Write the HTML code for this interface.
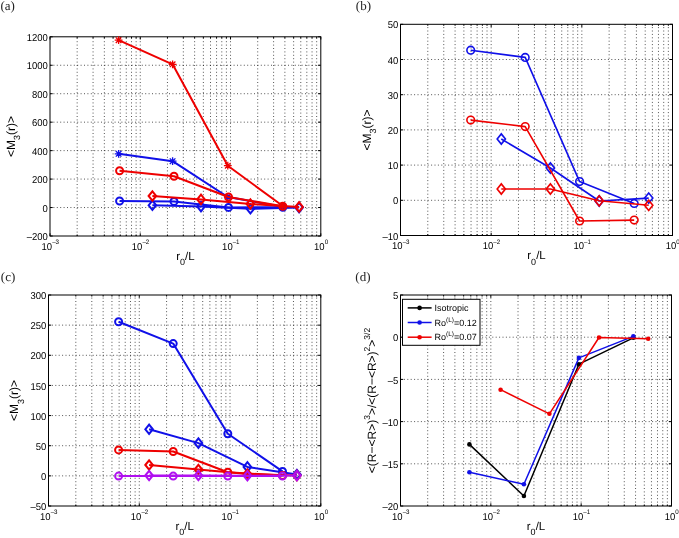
<!DOCTYPE html>
<html><head><meta charset="utf-8"><title>figure</title>
<style>html,body{margin:0;padding:0;background:#fff;width:679px;height:538px;overflow:hidden}svg{display:block;will-change:transform;text-rendering:geometricPrecision;filter:blur(0.3px)}</style>
</head><body>
<svg width="679" height="538" viewBox="0 0 679 538" font-family='"Liberation Sans", sans-serif' fill="#000">
<rect width="100%" height="100%" fill="#fff"/>
<path d="M77.17 236V36.8M93.07 236V36.8M104.35 236V36.8M113.09 236V36.8M120.24 236V36.8M126.28 236V36.8M131.52 236V36.8M136.14 236V36.8M140.27 236V36.8M167.44 236V36.8M183.33 236V36.8M194.61 236V36.8M203.36 236V36.8M210.51 236V36.8M216.55 236V36.8M221.79 236V36.8M226.4 236V36.8M230.53 236V36.8M257.71 236V36.8M273.6 236V36.8M284.88 236V36.8M293.63 236V36.8M300.77 236V36.8M306.82 236V36.8M312.05 236V36.8M316.67 236V36.8M50 207.54H320.8M50 179.09H320.8M50 150.63H320.8M50 122.17H320.8M50 93.71H320.8M50 65.26H320.8" stroke="#000" stroke-width="0.9" stroke-dasharray="1 2.4" fill="none" opacity="0.75"/>
<path d="M50 236V233.3M50 36.8V39.5M77.17 236V234.5M77.17 36.8V38.3M93.07 236V234.5M93.07 36.8V38.3M104.35 236V234.5M104.35 36.8V38.3M113.09 236V234.5M113.09 36.8V38.3M120.24 236V234.5M120.24 36.8V38.3M126.28 236V234.5M126.28 36.8V38.3M131.52 236V234.5M131.52 36.8V38.3M136.14 236V234.5M136.14 36.8V38.3M140.27 236V233.3M140.27 36.8V39.5M167.44 236V234.5M167.44 36.8V38.3M183.33 236V234.5M183.33 36.8V38.3M194.61 236V234.5M194.61 36.8V38.3M203.36 236V234.5M203.36 36.8V38.3M210.51 236V234.5M210.51 36.8V38.3M216.55 236V234.5M216.55 36.8V38.3M221.79 236V234.5M221.79 36.8V38.3M226.4 236V234.5M226.4 36.8V38.3M230.53 236V233.3M230.53 36.8V39.5M257.71 236V234.5M257.71 36.8V38.3M273.6 236V234.5M273.6 36.8V38.3M284.88 236V234.5M284.88 36.8V38.3M293.63 236V234.5M293.63 36.8V38.3M300.77 236V234.5M300.77 36.8V38.3M306.82 236V234.5M306.82 36.8V38.3M312.05 236V234.5M312.05 36.8V38.3M316.67 236V234.5M316.67 36.8V38.3M320.8 236V233.3M320.8 36.8V39.5M50 236H52.7M320.8 236H318.1M50 207.54H52.7M320.8 207.54H318.1M50 179.09H52.7M320.8 179.09H318.1M50 150.63H52.7M320.8 150.63H318.1M50 122.17H52.7M320.8 122.17H318.1M50 93.71H52.7M320.8 93.71H318.1M50 65.26H52.7M320.8 65.26H318.1M50 36.8H52.7M320.8 36.8H318.1" stroke="#000" stroke-width="1" fill="none"/>
<rect x="50" y="36.8" width="270.8" height="199.2" fill="none" stroke="#000" stroke-width="1"/>
<g>
<path d="M118.6 153.8L172.6 161.2L227.8 197L282.5 206.8" stroke="#1010e8" stroke-width="2.0" fill="none" stroke-linejoin="round"/>
<path d="M114.7 153.8H122.5M118.6 149.9V157.7M115.79 150.99L121.41 156.61M115.79 156.61L121.41 150.99" stroke="#1010e8" stroke-width="1.3" fill="none"/>
<path d="M168.7 161.2H176.5M172.6 157.3V165.1M169.79 158.39L175.41 164.01M169.79 164.01L175.41 158.39" stroke="#1010e8" stroke-width="1.3" fill="none"/>
<path d="M223.9 197H231.7M227.8 193.1V200.9M224.99 194.19L230.61 199.81M224.99 199.81L230.61 194.19" stroke="#1010e8" stroke-width="1.3" fill="none"/>
<path d="M278.6 206.8H286.4M282.5 202.9V210.7M279.69 203.99L285.31 209.61M279.69 209.61L285.31 203.99" stroke="#1010e8" stroke-width="1.3" fill="none"/>
<path d="M119.6 201L174 201.4L228.5 207.4L282.8 207.3" stroke="#1010e8" stroke-width="2.0" fill="none" stroke-linejoin="round"/>
<circle cx="119.6" cy="201" r="3.5" fill="none" stroke="#1010e8" stroke-width="2.0"/>
<circle cx="174" cy="201.4" r="3.5" fill="none" stroke="#1010e8" stroke-width="2.0"/>
<circle cx="228.5" cy="207.4" r="3.5" fill="none" stroke="#1010e8" stroke-width="2.0"/>
<circle cx="282.8" cy="207.3" r="3.5" fill="none" stroke="#1010e8" stroke-width="2.0"/>
<path d="M152.4 205.3L201 206.6L250.4 208.8L299.1 207.6" stroke="#1010e8" stroke-width="2.0" fill="none" stroke-linejoin="round"/>
<path d="M148.6 205.3L152.4 200.6L156.2 205.3L152.4 210Z" fill="none" stroke="#1010e8" stroke-width="2.0" stroke-linejoin="miter"/>
<path d="M197.2 206.6L201 201.9L204.8 206.6L201 211.3Z" fill="none" stroke="#1010e8" stroke-width="2.0" stroke-linejoin="miter"/>
<path d="M246.6 208.8L250.4 204.1L254.2 208.8L250.4 213.5Z" fill="none" stroke="#1010e8" stroke-width="2.0" stroke-linejoin="miter"/>
<path d="M295.3 207.6L299.1 202.9L302.9 207.6L299.1 212.3Z" fill="none" stroke="#1010e8" stroke-width="2.0" stroke-linejoin="miter"/>
<path d="M119.6 170.8L174 176.3L228.5 197L282.8 206.3" stroke="#ee0000" stroke-width="2.0" fill="none" stroke-linejoin="round"/>
<circle cx="119.6" cy="170.8" r="3.5" fill="none" stroke="#ee0000" stroke-width="2.0"/>
<circle cx="174" cy="176.3" r="3.5" fill="none" stroke="#ee0000" stroke-width="2.0"/>
<circle cx="228.5" cy="197" r="3.5" fill="none" stroke="#ee0000" stroke-width="2.0"/>
<circle cx="282.8" cy="206.3" r="3.5" fill="none" stroke="#ee0000" stroke-width="2.0"/>
<path d="M152.4 196L201 199.4L250.4 204L299.1 206.9" stroke="#ee0000" stroke-width="2.0" fill="none" stroke-linejoin="round"/>
<path d="M148.6 196L152.4 191.3L156.2 196L152.4 200.7Z" fill="none" stroke="#ee0000" stroke-width="2.0" stroke-linejoin="miter"/>
<path d="M197.2 199.4L201 194.7L204.8 199.4L201 204.1Z" fill="none" stroke="#ee0000" stroke-width="2.0" stroke-linejoin="miter"/>
<path d="M246.6 204L250.4 199.3L254.2 204L250.4 208.7Z" fill="none" stroke="#ee0000" stroke-width="2.0" stroke-linejoin="miter"/>
<path d="M295.3 206.9L299.1 202.2L302.9 206.9L299.1 211.6Z" fill="none" stroke="#ee0000" stroke-width="2.0" stroke-linejoin="miter"/>
<path d="M118.6 40.2L172.6 64.3L227.8 165.7L282.5 205.8" stroke="#ee0000" stroke-width="2.0" fill="none" stroke-linejoin="round"/>
<path d="M114.7 40.2H122.5M118.6 36.3V44.1M115.79 37.39L121.41 43.01M115.79 43.01L121.41 37.39" stroke="#ee0000" stroke-width="1.3" fill="none"/>
<path d="M168.7 64.3H176.5M172.6 60.4V68.2M169.79 61.49L175.41 67.11M169.79 67.11L175.41 61.49" stroke="#ee0000" stroke-width="1.3" fill="none"/>
<path d="M223.9 165.7H231.7M227.8 161.8V169.6M224.99 162.89L230.61 168.51M224.99 168.51L230.61 162.89" stroke="#ee0000" stroke-width="1.3" fill="none"/>
<path d="M278.6 205.8H286.4M282.5 201.9V209.7M279.69 202.99L285.31 208.61M279.69 208.61L285.31 202.99" stroke="#ee0000" stroke-width="1.3" fill="none"/>
</g>
<text transform="translate(47.8 240.1) scale(1 1.05)" text-anchor="end" font-size="9.5">&#8211;200</text>
<text transform="translate(47.8 211.64) scale(1 1.05)" text-anchor="end" font-size="9.5">0</text>
<text transform="translate(47.8 183.19) scale(1 1.05)" text-anchor="end" font-size="9.5">200</text>
<text transform="translate(47.8 154.73) scale(1 1.05)" text-anchor="end" font-size="9.5">400</text>
<text transform="translate(47.8 126.27) scale(1 1.05)" text-anchor="end" font-size="9.5">600</text>
<text transform="translate(47.8 97.81) scale(1 1.05)" text-anchor="end" font-size="9.5">800</text>
<text transform="translate(47.8 69.36) scale(1 1.05)" text-anchor="end" font-size="9.5">1000</text>
<text transform="translate(47.8 40.9) scale(1 1.05)" text-anchor="end" font-size="9.5">1200</text>
<text transform="translate(50.3 249.7) scale(1 1.05)" text-anchor="middle" font-size="9.5">10<tspan font-size="6.2" dy="-5.1">&#8211;3</tspan></text>
<text transform="translate(140.57 249.7) scale(1 1.05)" text-anchor="middle" font-size="9.5">10<tspan font-size="6.2" dy="-5.1">&#8211;2</tspan></text>
<text transform="translate(230.83 249.7) scale(1 1.05)" text-anchor="middle" font-size="9.5">10<tspan font-size="6.2" dy="-5.1">&#8211;1</tspan></text>
<text transform="translate(321.1 249.7) scale(1 1.05)" text-anchor="middle" font-size="9.5">10<tspan font-size="6.2" dy="-5.1">0</tspan></text>
<text x="185.4" y="259.5" text-anchor="middle" font-size="11.5">r<tspan font-size="9" dy="5.5">0</tspan><tspan dy="-5.5">/L</tspan></text>
<path d="M427.79 235.5V24.3M443.76 235.5V24.3M455.09 235.5V24.3M463.87 235.5V24.3M471.05 235.5V24.3M477.12 235.5V24.3M482.38 235.5V24.3M487.02 235.5V24.3M491.17 235.5V24.3M518.46 235.5V24.3M534.43 235.5V24.3M545.75 235.5V24.3M554.54 235.5V24.3M561.72 235.5V24.3M567.79 235.5V24.3M573.05 235.5V24.3M577.68 235.5V24.3M581.83 235.5V24.3M609.13 235.5V24.3M625.09 235.5V24.3M636.42 235.5V24.3M645.21 235.5V24.3M652.39 235.5V24.3M658.46 235.5V24.3M663.71 235.5V24.3M668.35 235.5V24.3M400.5 200.3H672.5M400.5 165.1H672.5M400.5 129.9H672.5M400.5 94.7H672.5M400.5 59.5H672.5" stroke="#000" stroke-width="0.9" stroke-dasharray="1 2.4" fill="none" opacity="0.75"/>
<path d="M400.5 235.5V232.8M400.5 24.3V27M427.79 235.5V234M427.79 24.3V25.8M443.76 235.5V234M443.76 24.3V25.8M455.09 235.5V234M455.09 24.3V25.8M463.87 235.5V234M463.87 24.3V25.8M471.05 235.5V234M471.05 24.3V25.8M477.12 235.5V234M477.12 24.3V25.8M482.38 235.5V234M482.38 24.3V25.8M487.02 235.5V234M487.02 24.3V25.8M491.17 235.5V232.8M491.17 24.3V27M518.46 235.5V234M518.46 24.3V25.8M534.43 235.5V234M534.43 24.3V25.8M545.75 235.5V234M545.75 24.3V25.8M554.54 235.5V234M554.54 24.3V25.8M561.72 235.5V234M561.72 24.3V25.8M567.79 235.5V234M567.79 24.3V25.8M573.05 235.5V234M573.05 24.3V25.8M577.68 235.5V234M577.68 24.3V25.8M581.83 235.5V232.8M581.83 24.3V27M609.13 235.5V234M609.13 24.3V25.8M625.09 235.5V234M625.09 24.3V25.8M636.42 235.5V234M636.42 24.3V25.8M645.21 235.5V234M645.21 24.3V25.8M652.39 235.5V234M652.39 24.3V25.8M658.46 235.5V234M658.46 24.3V25.8M663.71 235.5V234M663.71 24.3V25.8M668.35 235.5V234M668.35 24.3V25.8M672.5 235.5V232.8M672.5 24.3V27M400.5 235.5H403.2M672.5 235.5H669.8M400.5 200.3H403.2M672.5 200.3H669.8M400.5 165.1H403.2M672.5 165.1H669.8M400.5 129.9H403.2M672.5 129.9H669.8M400.5 94.7H403.2M672.5 94.7H669.8M400.5 59.5H403.2M672.5 59.5H669.8M400.5 24.3H403.2M672.5 24.3H669.8" stroke="#000" stroke-width="1" fill="none"/>
<rect x="400.5" y="24.3" width="272" height="211.2" fill="none" stroke="#000" stroke-width="1"/>
<g>
<path d="M470.7 50.2L525.2 57.4L579.6 181.6L634.2 203.4" stroke="#1010e8" stroke-width="1.6" fill="none" stroke-linejoin="round"/>
<circle cx="470.7" cy="50.2" r="3.82" fill="none" stroke="#1010e8" stroke-width="1.6"/>
<circle cx="525.2" cy="57.4" r="3.82" fill="none" stroke="#1010e8" stroke-width="1.6"/>
<circle cx="579.6" cy="181.6" r="3.82" fill="none" stroke="#1010e8" stroke-width="1.6"/>
<circle cx="634.2" cy="203.4" r="3.82" fill="none" stroke="#1010e8" stroke-width="1.6"/>
<path d="M501.3 139L550.4 168L599.2 201L648.7 198.1" stroke="#1010e8" stroke-width="1.6" fill="none" stroke-linejoin="round"/>
<path d="M497.16 139L501.3 133.88L505.44 139L501.3 144.12Z" fill="none" stroke="#1010e8" stroke-width="1.6" stroke-linejoin="miter"/>
<path d="M546.26 168L550.4 162.88L554.54 168L550.4 173.12Z" fill="none" stroke="#1010e8" stroke-width="1.6" stroke-linejoin="miter"/>
<path d="M595.06 201L599.2 195.88L603.34 201L599.2 206.12Z" fill="none" stroke="#1010e8" stroke-width="1.6" stroke-linejoin="miter"/>
<path d="M644.56 198.1L648.7 192.98L652.84 198.1L648.7 203.22Z" fill="none" stroke="#1010e8" stroke-width="1.6" stroke-linejoin="miter"/>
<path d="M470.7 120.1L525.2 126.6L579.6 221L634.2 220.1" stroke="#ee0000" stroke-width="1.6" fill="none" stroke-linejoin="round"/>
<circle cx="470.7" cy="120.1" r="3.82" fill="none" stroke="#ee0000" stroke-width="1.6"/>
<circle cx="525.2" cy="126.6" r="3.82" fill="none" stroke="#ee0000" stroke-width="1.6"/>
<circle cx="579.6" cy="221" r="3.82" fill="none" stroke="#ee0000" stroke-width="1.6"/>
<circle cx="634.2" cy="220.1" r="3.82" fill="none" stroke="#ee0000" stroke-width="1.6"/>
<path d="M501.3 189L550.4 189L599.2 200.8L648.7 205.3" stroke="#ee0000" stroke-width="1.6" fill="none" stroke-linejoin="round"/>
<path d="M497.16 189L501.3 183.88L505.44 189L501.3 194.12Z" fill="none" stroke="#ee0000" stroke-width="1.6" stroke-linejoin="miter"/>
<path d="M546.26 189L550.4 183.88L554.54 189L550.4 194.12Z" fill="none" stroke="#ee0000" stroke-width="1.6" stroke-linejoin="miter"/>
<path d="M595.06 200.8L599.2 195.68L603.34 200.8L599.2 205.92Z" fill="none" stroke="#ee0000" stroke-width="1.6" stroke-linejoin="miter"/>
<path d="M644.56 205.3L648.7 200.18L652.84 205.3L648.7 210.42Z" fill="none" stroke="#ee0000" stroke-width="1.6" stroke-linejoin="miter"/>
</g>
<text transform="translate(398.3 239.6) scale(1 1.05)" text-anchor="end" font-size="9.5">&#8211;10</text>
<text transform="translate(398.3 204.4) scale(1 1.05)" text-anchor="end" font-size="9.5">0</text>
<text transform="translate(398.3 169.2) scale(1 1.05)" text-anchor="end" font-size="9.5">10</text>
<text transform="translate(398.3 134) scale(1 1.05)" text-anchor="end" font-size="9.5">20</text>
<text transform="translate(398.3 98.8) scale(1 1.05)" text-anchor="end" font-size="9.5">30</text>
<text transform="translate(398.3 63.6) scale(1 1.05)" text-anchor="end" font-size="9.5">40</text>
<text transform="translate(398.3 28.4) scale(1 1.05)" text-anchor="end" font-size="9.5">50</text>
<text transform="translate(400.8 249.2) scale(1 1.05)" text-anchor="middle" font-size="9.5">10<tspan font-size="6.2" dy="-5.1">&#8211;3</tspan></text>
<text transform="translate(491.47 249.2) scale(1 1.05)" text-anchor="middle" font-size="9.5">10<tspan font-size="6.2" dy="-5.1">&#8211;2</tspan></text>
<text transform="translate(582.13 249.2) scale(1 1.05)" text-anchor="middle" font-size="9.5">10<tspan font-size="6.2" dy="-5.1">&#8211;1</tspan></text>
<text transform="translate(672.8 249.2) scale(1 1.05)" text-anchor="middle" font-size="9.5">10<tspan font-size="6.2" dy="-5.1">0</tspan></text>
<text x="536.5" y="259" text-anchor="middle" font-size="11.5">r<tspan font-size="9" dy="5.5">0</tspan><tspan dy="-5.5">/L</tspan></text>
<path d="M75.82 506V295M91.81 506V295M103.15 506V295M111.94 506V295M119.13 506V295M125.21 506V295M130.47 506V295M135.11 506V295M139.27 506V295M166.59 506V295M182.57 506V295M193.91 506V295M202.71 506V295M209.9 506V295M215.97 506V295M221.24 506V295M225.88 506V295M230.03 506V295M257.36 506V295M273.34 506V295M284.68 506V295M293.48 506V295M300.66 506V295M306.74 506V295M312 506V295M316.65 506V295M48.5 475.86H320.8M48.5 445.71H320.8M48.5 415.57H320.8M48.5 385.43H320.8M48.5 355.29H320.8M48.5 325.14H320.8" stroke="#000" stroke-width="0.9" stroke-dasharray="1 2.4" fill="none" opacity="0.75"/>
<path d="M48.5 506V503.3M48.5 295V297.7M75.82 506V504.5M75.82 295V296.5M91.81 506V504.5M91.81 295V296.5M103.15 506V504.5M103.15 295V296.5M111.94 506V504.5M111.94 295V296.5M119.13 506V504.5M119.13 295V296.5M125.21 506V504.5M125.21 295V296.5M130.47 506V504.5M130.47 295V296.5M135.11 506V504.5M135.11 295V296.5M139.27 506V503.3M139.27 295V297.7M166.59 506V504.5M166.59 295V296.5M182.57 506V504.5M182.57 295V296.5M193.91 506V504.5M193.91 295V296.5M202.71 506V504.5M202.71 295V296.5M209.9 506V504.5M209.9 295V296.5M215.97 506V504.5M215.97 295V296.5M221.24 506V504.5M221.24 295V296.5M225.88 506V504.5M225.88 295V296.5M230.03 506V503.3M230.03 295V297.7M257.36 506V504.5M257.36 295V296.5M273.34 506V504.5M273.34 295V296.5M284.68 506V504.5M284.68 295V296.5M293.48 506V504.5M293.48 295V296.5M300.66 506V504.5M300.66 295V296.5M306.74 506V504.5M306.74 295V296.5M312 506V504.5M312 295V296.5M316.65 506V504.5M316.65 295V296.5M320.8 506V503.3M320.8 295V297.7M48.5 506H51.2M320.8 506H318.1M48.5 475.86H51.2M320.8 475.86H318.1M48.5 445.71H51.2M320.8 445.71H318.1M48.5 415.57H51.2M320.8 415.57H318.1M48.5 385.43H51.2M320.8 385.43H318.1M48.5 355.29H51.2M320.8 355.29H318.1M48.5 325.14H51.2M320.8 325.14H318.1M48.5 295H51.2M320.8 295H318.1" stroke="#000" stroke-width="1" fill="none"/>
<rect x="48.5" y="295" width="272.3" height="211" fill="none" stroke="#000" stroke-width="1"/>
<g>
<path d="M118.6 321.8L173.2 343.6L227.8 433.7L282.5 471.4" stroke="#1010e8" stroke-width="2.0" fill="none" stroke-linejoin="round"/>
<circle cx="118.6" cy="321.8" r="3.5" fill="none" stroke="#1010e8" stroke-width="2.0"/>
<circle cx="173.2" cy="343.6" r="3.5" fill="none" stroke="#1010e8" stroke-width="2.0"/>
<circle cx="227.8" cy="433.7" r="3.5" fill="none" stroke="#1010e8" stroke-width="2.0"/>
<circle cx="282.5" cy="471.4" r="3.5" fill="none" stroke="#1010e8" stroke-width="2.0"/>
<path d="M149.1 429.3L198.4 443.1L247.4 466.9L296.9 474.5" stroke="#1010e8" stroke-width="2.0" fill="none" stroke-linejoin="round"/>
<path d="M145.3 429.3L149.1 424.6L152.9 429.3L149.1 434Z" fill="none" stroke="#1010e8" stroke-width="2.0" stroke-linejoin="miter"/>
<path d="M194.6 443.1L198.4 438.4L202.2 443.1L198.4 447.8Z" fill="none" stroke="#1010e8" stroke-width="2.0" stroke-linejoin="miter"/>
<path d="M243.6 466.9L247.4 462.2L251.2 466.9L247.4 471.6Z" fill="none" stroke="#1010e8" stroke-width="2.0" stroke-linejoin="miter"/>
<path d="M293.1 474.5L296.9 469.8L300.7 474.5L296.9 479.2Z" fill="none" stroke="#1010e8" stroke-width="2.0" stroke-linejoin="miter"/>
<path d="M118.6 449.9L173.2 451.5L227.8 472.2L282.5 475.5" stroke="#ee0000" stroke-width="2.0" fill="none" stroke-linejoin="round"/>
<circle cx="118.6" cy="449.9" r="3.5" fill="none" stroke="#ee0000" stroke-width="2.0"/>
<circle cx="173.2" cy="451.5" r="3.5" fill="none" stroke="#ee0000" stroke-width="2.0"/>
<circle cx="227.8" cy="472.2" r="3.5" fill="none" stroke="#ee0000" stroke-width="2.0"/>
<circle cx="282.5" cy="475.5" r="3.5" fill="none" stroke="#ee0000" stroke-width="2.0"/>
<path d="M149.1 465L198.4 469.5L247.4 474L296.9 475.6" stroke="#ee0000" stroke-width="2.0" fill="none" stroke-linejoin="round"/>
<path d="M145.3 465L149.1 460.3L152.9 465L149.1 469.7Z" fill="none" stroke="#ee0000" stroke-width="2.0" stroke-linejoin="miter"/>
<path d="M194.6 469.5L198.4 464.8L202.2 469.5L198.4 474.2Z" fill="none" stroke="#ee0000" stroke-width="2.0" stroke-linejoin="miter"/>
<path d="M243.6 474L247.4 469.3L251.2 474L247.4 478.7Z" fill="none" stroke="#ee0000" stroke-width="2.0" stroke-linejoin="miter"/>
<path d="M293.1 475.6L296.9 470.9L300.7 475.6L296.9 480.3Z" fill="none" stroke="#ee0000" stroke-width="2.0" stroke-linejoin="miter"/>
<path d="M118.6 476.1L173.2 476.1L227.8 476.1L282.5 476.1" stroke="#b010f0" stroke-width="2.0" fill="none" stroke-linejoin="round"/>
<circle cx="118.6" cy="476.1" r="3.5" fill="none" stroke="#b010f0" stroke-width="2.0"/>
<circle cx="173.2" cy="476.1" r="3.5" fill="none" stroke="#b010f0" stroke-width="2.0"/>
<circle cx="227.8" cy="476.1" r="3.5" fill="none" stroke="#b010f0" stroke-width="2.0"/>
<circle cx="282.5" cy="476.1" r="3.5" fill="none" stroke="#b010f0" stroke-width="2.0"/>
<path d="M149.1 475.5L198.4 475.5L247.4 475.8L296.9 475.6" stroke="#b010f0" stroke-width="2.0" fill="none" stroke-linejoin="round"/>
<path d="M145.3 475.5L149.1 470.8L152.9 475.5L149.1 480.2Z" fill="none" stroke="#b010f0" stroke-width="2.0" stroke-linejoin="miter"/>
<path d="M194.6 475.5L198.4 470.8L202.2 475.5L198.4 480.2Z" fill="none" stroke="#b010f0" stroke-width="2.0" stroke-linejoin="miter"/>
<path d="M243.6 475.8L247.4 471.1L251.2 475.8L247.4 480.5Z" fill="none" stroke="#b010f0" stroke-width="2.0" stroke-linejoin="miter"/>
<path d="M293.1 475.6L296.9 470.9L300.7 475.6L296.9 480.3Z" fill="none" stroke="#b010f0" stroke-width="2.0" stroke-linejoin="miter"/>
</g>
<text transform="translate(46.3 510.1) scale(1 1.05)" text-anchor="end" font-size="9.5">&#8211;50</text>
<text transform="translate(46.3 479.96) scale(1 1.05)" text-anchor="end" font-size="9.5">0</text>
<text transform="translate(46.3 449.81) scale(1 1.05)" text-anchor="end" font-size="9.5">50</text>
<text transform="translate(46.3 419.67) scale(1 1.05)" text-anchor="end" font-size="9.5">100</text>
<text transform="translate(46.3 389.53) scale(1 1.05)" text-anchor="end" font-size="9.5">150</text>
<text transform="translate(46.3 359.39) scale(1 1.05)" text-anchor="end" font-size="9.5">200</text>
<text transform="translate(46.3 329.24) scale(1 1.05)" text-anchor="end" font-size="9.5">250</text>
<text transform="translate(46.3 299.1) scale(1 1.05)" text-anchor="end" font-size="9.5">300</text>
<text transform="translate(48.8 519.7) scale(1 1.05)" text-anchor="middle" font-size="9.5">10<tspan font-size="6.2" dy="-5.1">&#8211;3</tspan></text>
<text transform="translate(139.57 519.7) scale(1 1.05)" text-anchor="middle" font-size="9.5">10<tspan font-size="6.2" dy="-5.1">&#8211;2</tspan></text>
<text transform="translate(230.33 519.7) scale(1 1.05)" text-anchor="middle" font-size="9.5">10<tspan font-size="6.2" dy="-5.1">&#8211;1</tspan></text>
<text transform="translate(321.1 519.7) scale(1 1.05)" text-anchor="middle" font-size="9.5">10<tspan font-size="6.2" dy="-5.1">0</tspan></text>
<text x="184.65" y="529.5" text-anchor="middle" font-size="11.5">r<tspan font-size="9" dy="5.5">0</tspan><tspan dy="-5.5">/L</tspan></text>
<path d="M427.69 506V295M443.6 506V295M454.89 506V295M463.64 506V295M470.79 506V295M476.84 506V295M482.08 506V295M486.7 506V295M490.83 506V295M518.03 506V295M533.93 506V295M545.22 506V295M553.97 506V295M561.13 506V295M567.17 506V295M572.41 506V295M577.03 506V295M581.17 506V295M608.36 506V295M624.27 506V295M635.55 506V295M644.31 506V295M651.46 506V295M657.51 506V295M662.75 506V295M667.37 506V295M400.5 463.8H671.5M400.5 421.6H671.5M400.5 379.4H671.5M400.5 337.2H671.5" stroke="#000" stroke-width="0.9" stroke-dasharray="1 2.4" fill="none" opacity="0.75"/>
<path d="M400.5 506V503.3M400.5 295V297.7M427.69 506V504.5M427.69 295V296.5M443.6 506V504.5M443.6 295V296.5M454.89 506V504.5M454.89 295V296.5M463.64 506V504.5M463.64 295V296.5M470.79 506V504.5M470.79 295V296.5M476.84 506V504.5M476.84 295V296.5M482.08 506V504.5M482.08 295V296.5M486.7 506V504.5M486.7 295V296.5M490.83 506V503.3M490.83 295V297.7M518.03 506V504.5M518.03 295V296.5M533.93 506V504.5M533.93 295V296.5M545.22 506V504.5M545.22 295V296.5M553.97 506V504.5M553.97 295V296.5M561.13 506V504.5M561.13 295V296.5M567.17 506V504.5M567.17 295V296.5M572.41 506V504.5M572.41 295V296.5M577.03 506V504.5M577.03 295V296.5M581.17 506V503.3M581.17 295V297.7M608.36 506V504.5M608.36 295V296.5M624.27 506V504.5M624.27 295V296.5M635.55 506V504.5M635.55 295V296.5M644.31 506V504.5M644.31 295V296.5M651.46 506V504.5M651.46 295V296.5M657.51 506V504.5M657.51 295V296.5M662.75 506V504.5M662.75 295V296.5M667.37 506V504.5M667.37 295V296.5M671.5 506V503.3M671.5 295V297.7M400.5 506H403.2M671.5 506H668.8M400.5 463.8H403.2M671.5 463.8H668.8M400.5 421.6H403.2M671.5 421.6H668.8M400.5 379.4H403.2M671.5 379.4H668.8M400.5 337.2H403.2M671.5 337.2H668.8M400.5 295H403.2M671.5 295H668.8" stroke="#000" stroke-width="1" fill="none"/>
<rect x="400.5" y="295" width="271" height="211" fill="none" stroke="#000" stroke-width="1"/>
<g>
<path d="M469.4 444.4L523.9 496L578.9 364.2L633.3 337.8" stroke="#000000" stroke-width="1.5" fill="none" stroke-linejoin="round"/>
<circle cx="469.4" cy="444.4" r="2.3" fill="#000000"/>
<circle cx="523.9" cy="496" r="2.3" fill="#000000"/>
<circle cx="578.9" cy="364.2" r="2.3" fill="#000000"/>
<circle cx="633.3" cy="337.8" r="2.3" fill="#000000"/>
<path d="M469.4 472.3L523.9 484.3L578.9 357.9L633.3 336.4" stroke="#1010e8" stroke-width="1.5" fill="none" stroke-linejoin="round"/>
<circle cx="469.4" cy="472.3" r="2.3" fill="#1010e8"/>
<circle cx="523.9" cy="484.3" r="2.3" fill="#1010e8"/>
<circle cx="578.9" cy="357.9" r="2.3" fill="#1010e8"/>
<circle cx="633.3" cy="336.4" r="2.3" fill="#1010e8"/>
<path d="M500.6 389.7L549.4 413.8L599 337.5L648.2 338.7" stroke="#ee0000" stroke-width="1.5" fill="none" stroke-linejoin="round"/>
<circle cx="500.6" cy="389.7" r="2.3" fill="#ee0000"/>
<circle cx="549.4" cy="413.8" r="2.3" fill="#ee0000"/>
<circle cx="599" cy="337.5" r="2.3" fill="#ee0000"/>
<circle cx="648.2" cy="338.7" r="2.3" fill="#ee0000"/>
</g>
<text transform="translate(398.3 510.1) scale(1 1.05)" text-anchor="end" font-size="9.5">&#8211;20</text>
<text transform="translate(398.3 467.9) scale(1 1.05)" text-anchor="end" font-size="9.5">&#8211;15</text>
<text transform="translate(398.3 425.7) scale(1 1.05)" text-anchor="end" font-size="9.5">&#8211;10</text>
<text transform="translate(398.3 383.5) scale(1 1.05)" text-anchor="end" font-size="9.5">&#8211;5</text>
<text transform="translate(398.3 341.3) scale(1 1.05)" text-anchor="end" font-size="9.5">0</text>
<text transform="translate(398.3 299.1) scale(1 1.05)" text-anchor="end" font-size="9.5">5</text>
<text transform="translate(400.8 519.7) scale(1 1.05)" text-anchor="middle" font-size="9.5">10<tspan font-size="6.2" dy="-5.1">&#8211;3</tspan></text>
<text transform="translate(491.13 519.7) scale(1 1.05)" text-anchor="middle" font-size="9.5">10<tspan font-size="6.2" dy="-5.1">&#8211;2</tspan></text>
<text transform="translate(581.47 519.7) scale(1 1.05)" text-anchor="middle" font-size="9.5">10<tspan font-size="6.2" dy="-5.1">&#8211;1</tspan></text>
<text transform="translate(671.8 519.7) scale(1 1.05)" text-anchor="middle" font-size="9.5">10<tspan font-size="6.2" dy="-5.1">0</tspan></text>
<text x="536" y="529.5" text-anchor="middle" font-size="11.5">r<tspan font-size="9" dy="5.5">0</tspan><tspan dy="-5.5">/L</tspan></text>
<text transform="translate(14.6 136.4) rotate(-90)" text-anchor="middle" font-size="12">&lt;M<tspan font-size="9" dy="5.5">3</tspan><tspan dy="-5.5">(r)&gt;</tspan></text>
<text transform="translate(370.6 129.9) rotate(-90)" text-anchor="middle" font-size="12">&lt;M<tspan font-size="9" dy="5.5">3</tspan><tspan dy="-5.5">(r)&gt;</tspan></text>
<text transform="translate(18.4 400.5) rotate(-90)" text-anchor="middle" font-size="12">&lt;M<tspan font-size="9" dy="5.5">3</tspan><tspan dy="-5.5">(r)&gt;</tspan></text>
<text transform="translate(376 400.5) rotate(-90)" text-anchor="middle" font-size="12">&lt;(R&#8722;&lt;R&gt;)<tspan font-size="8.5" dy="-5.7">3</tspan><tspan dy="5.7">&gt;/&lt;(R&#8722;&lt;R&gt;)</tspan><tspan font-size="8.5" dy="-5.7">2</tspan><tspan dy="5.7">&gt;</tspan><tspan font-size="8.5" dy="-5.7">3/2</tspan></text>
<rect x="402.5" y="299.3" width="77.5" height="46" fill="#fff" stroke="#000" stroke-width="1"/>
<path d="M407.7 307.9H431.6" stroke="#000000" stroke-width="1.5"/>
<circle cx="419.6" cy="307.9" r="2.3" fill="#000000"/>
<text x="434.5" y="311.1" font-size="9">Isotropic</text>
<path d="M407.7 322.5H431.6" stroke="#1010e8" stroke-width="1.5"/>
<circle cx="419.6" cy="322.5" r="2.3" fill="#1010e8"/>
<text x="434.5" y="325.7" font-size="9">Ro<tspan font-size="6.5" dy="-4">(L)</tspan><tspan dy="4">=0.12</tspan></text>
<path d="M407.7 337.2H431.6" stroke="#ee0000" stroke-width="1.5"/>
<circle cx="419.6" cy="337.2" r="2.3" fill="#ee0000"/>
<text x="434.5" y="340.4" font-size="9">Ro<tspan font-size="6.5" dy="-4">(L)</tspan><tspan dy="4">=0.07</tspan></text>
<text x="0.5" y="10.4" font-family='"Liberation Serif", serif' font-size="13" fill="#222">(a)</text>
<text x="355.8" y="10.4" font-family='"Liberation Serif", serif' font-size="13" fill="#222">(b)</text>
<text x="0.8" y="280.8" font-family='"Liberation Serif", serif' font-size="13" fill="#222">(c)</text>
<text x="355.3" y="280.8" font-family='"Liberation Serif", serif' font-size="13" fill="#222">(d)</text>
</svg>
</body></html>
